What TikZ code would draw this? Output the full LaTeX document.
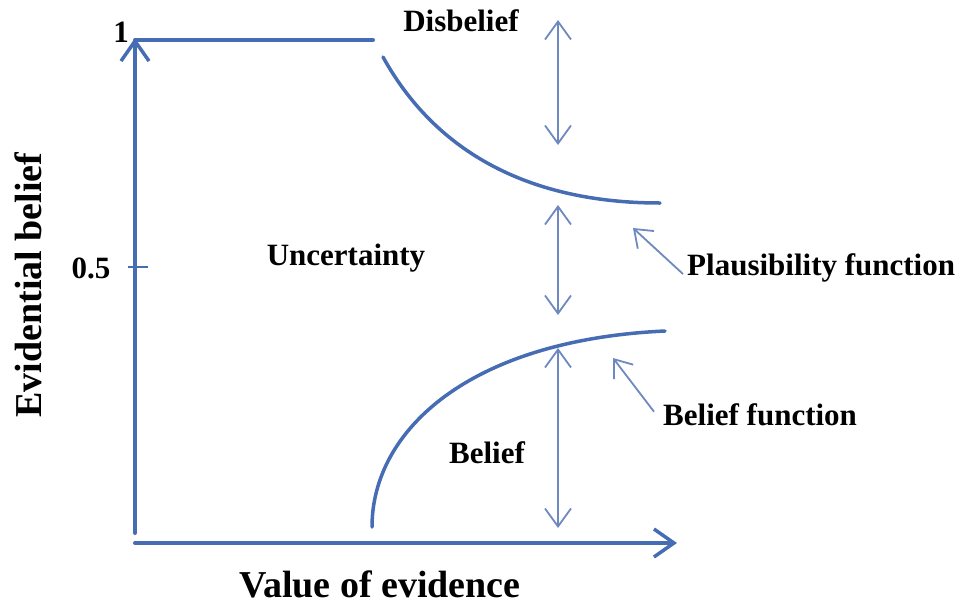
\documentclass[tikz,border=0pt]{standalone}
\usepackage{fontspec}
\setmainfont{Liberation Serif}
\usetikzlibrary{arrows.meta}
\definecolor{axisblue}{RGB}{70,108,180}
\definecolor{thinblue}{RGB}{110,136,192}
\tikzset{
  axisline/.style={draw=axisblue, line width=4pt, line cap=round},
  curveline/.style={draw=axisblue, line width=3.5pt, line cap=round},
  axistip/.style={-{Straight Barb[length=20pt,width=28pt,line width=3.5pt]}},
  spanarrow/.style={draw=thinblue, line width=1.8pt,
    {Straight Barb[length=18pt,width=26pt,line width=1.8pt]}-{Straight Barb[length=18pt,width=26pt,line width=1.8pt]}},
  pointer/.style={draw=thinblue, line width=1.8pt,
    -{Straight Barb[length=16pt,width=24pt,line width=1.8pt]}},
  lbl/.style={font=\bfseries\fontsize{31}{36}\selectfont, inner sep=0pt},
  axlbl/.style={font=\bfseries\fontsize{38}{44}\selectfont, inner sep=0pt}
}
\begin{document}
\begin{tikzpicture}[x=1pt,y=-1pt]
\useasboundingbox (0,0) rectangle (964,606);

% axes
\coordinate (ybot) at (135,533);
\coordinate (ytop) at (135,38);
\coordinate (xleft) at (135,543);
\coordinate (xright) at (677,543);
\coordinate (plateauL) at (135,40);
\coordinate (plateauR) at (373,40);
\draw[axisline, axistip] (ybot) -- (ytop);
\draw[axisline, axistip] (xleft) -- (xright);
\draw[axisline] (plateauL) -- (plateauR);

% tick at 0.5
\coordinate (tickL) at (128,267);
\coordinate (tickR) at (148,267);
\draw[draw=axisblue, line width=1.5pt] (tickL) -- (tickR);

% plausibility and belief curves
\coordinate (plA) at (383,57);
\coordinate (plB) at (660,203);
\draw[curveline] (plA) .. controls (440,160) and (540,203) .. (plB);
\coordinate (beA) at (372,527);
\coordinate (beB) at (665,331);
\draw[curveline] (beA) .. controls (372,430) and (470,340) .. (beB);

% span arrows
\coordinate (d1) at (558,20);
\coordinate (d2) at (558,145);
\coordinate (u1) at (558,205);
\coordinate (u2) at (558,315);
\coordinate (b1) at (558,348);
\coordinate (b2) at (558,528);
\draw[spanarrow] (d1) -- (d2);
\draw[spanarrow] (u1) -- (u2);
\draw[spanarrow] (b1) -- (b2);

% labels
\node[lbl] (one) at (121,32) {1};
\node[lbl] (half) at (91,268) {0.5};
\node[lbl] (disb) at (461,21) {Disbelief};
\node[lbl] (unc) at (346,258) {Uncertainty};
\node[lbl] (bel) at (487,453) {Belief};
\node[lbl, anchor=west] (plf) at (687,268) {Plausibility function};
\node[lbl, anchor=west] (bef) at (663,415) {Belief function};
\node[axlbl] (xlab) at (380,584) {Value of evidence};
\node[axlbl, rotate=90] (ylab) at (28,285) {Evidential belief};

% pointers to the curves
\coordinate (plTip) at (633,228);
\coordinate (beTip) at (613,358);
\draw[pointer] ([xshift=-4pt,yshift=-6pt]plf.west) -- (plTip);
\draw[pointer] ([xshift=-9pt,yshift=-8pt]bef.north west) -- (beTip);
\end{tikzpicture}
\end{document}
